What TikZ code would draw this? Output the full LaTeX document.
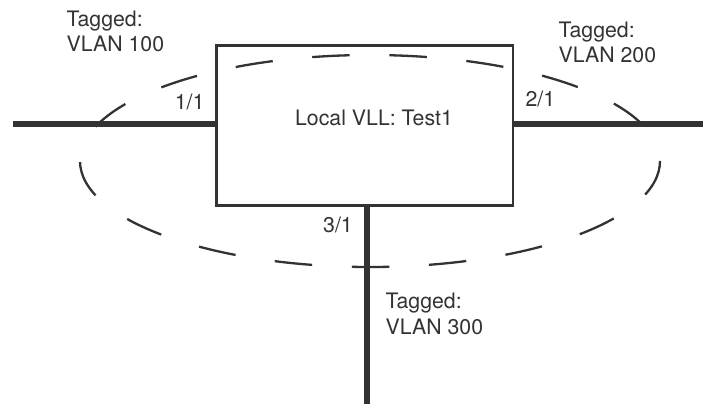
\documentclass[tikz,border=0pt]{standalone}
\usepackage{fontspec}
\setmainfont{TeX Gyre Heros}
\definecolor{ink}{HTML}{333333}
\begin{document}
\begin{tikzpicture}[x=1pt,y=-1pt,
  lbl/.style={inner sep=0pt, text=ink, font=\fontsize{21.3}{25.7}\selectfont},
  tagl/.style={lbl, align=left, anchor=base west},
  link/.style={draw=ink, line width=6pt},
  vllbox/.style={draw=ink, line width=2.4pt, minimum width=296.7pt, minimum height=160pt, inner sep=0pt},
  ring/.style={draw=ink, line width=2.3pt, dash pattern=on 37.5pt off 39.7pt}]
\useasboundingbox (0,0) rectangle (703,404);
\node[vllbox] (box) at (364.7,125.5) {};
\node[lbl, anchor=base] (title) at (374,125.7) {Local VLL: Test1};
\coordinate (lend) at (12.7,124.2);
\coordinate (rend) at (703,124.2);
\coordinate (bend) at (366.5,404);
\draw[link] (lend) -- (lend -| box.west);
\draw[link] (rend -| box.east) -- (rend);
\draw[link] (bend |- box.south) -- (bend);
\draw[ring] (370,161) ellipse [x radius=290, y radius=106];
\node[tagl] (t100) at (66.5,51.8) {Tagged:\\VLAN 100};
\node[tagl] (t200) at (558.5,63) {Tagged:\\VLAN 200};
\node[tagl] (t300) at (385.5,334) {Tagged:\\VLAN 300};
\node[lbl, anchor=base west] (p11) at (174.7,109) {1/1};
\node[lbl, anchor=base west] (p21) at (525.3,106) {2/1};
\node[lbl, anchor=base west] (p31) at (323,232) {3/1};
\end{tikzpicture}
\end{document}
